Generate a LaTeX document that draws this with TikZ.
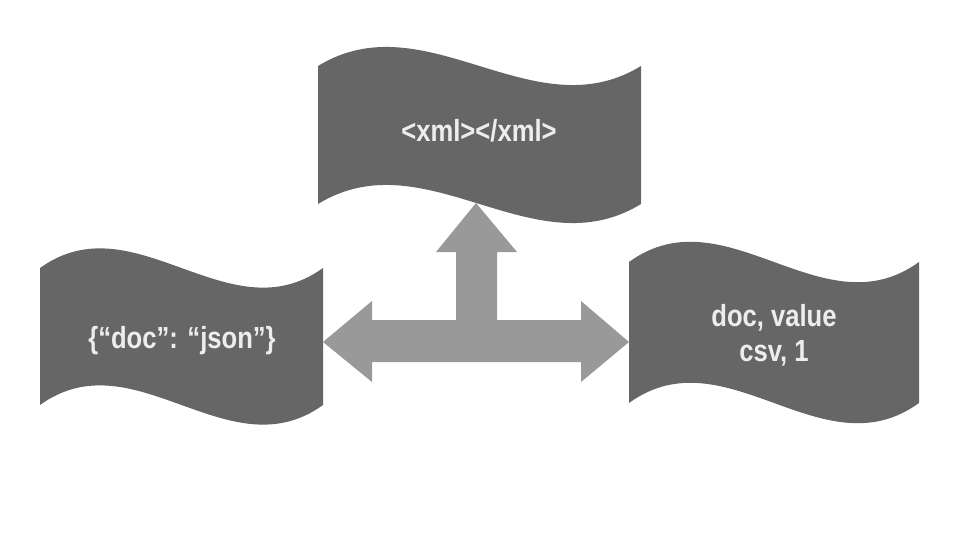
\documentclass[tikz,border=0pt]{standalone}
\usepackage{fontspec}
\setmainfont{Liberation Sans}[FakeStretch=0.84]
\definecolor{shapegray}{HTML}{666666}
\definecolor{arrowgray}{HTML}{999999}
\definecolor{textgray}{HTML}{EDEDED}
\tikzset{
  wavefill/.style={fill=shapegray, draw=none},
  arrowfill/.style={fill=arrowgray, draw=none},
  doclabel/.style={text=textgray, font=\bfseries\fontsize{30.5}{35}\selectfont, align=center, inner sep=0pt}
}
% \wavedoc{x0}{y0}{x1}{y1}{amp}
\newcommand{\wavedoc}[5]{%
  \path[wavefill]
    (#1,#2) .. controls ({#1+(#3-#1)/3},{#2-#5}) and ({#1+2*(#3-#1)/3},{#2+#5}) .. (#3,#2)
    -- (#3,#4)
    .. controls ({#1+2*(#3-#1)/3},{#4+#5}) and ({#1+(#3-#1)/3},{#4-#5}) .. (#1,#4)
    -- cycle;}
\begin{document}
\begin{tikzpicture}[x=1pt,y=-1pt]
\useasboundingbox (0,0) rectangle (960,540);
\fill[white] (0,0) rectangle (960,540);
% document shapes
\wavedoc{318}{66}{641}{204}{66}
\wavedoc{40}{268}{323}{405}{68}
\wavedoc{629}{262}{919}{403}{70}
% three-way arrow
\path[arrowfill]
  (476,203) -- (517,252) -- (497,252) -- (497,320) -- (581,320) -- (581,301)
  -- (629,342) -- (581,382) -- (581,362) -- (372,362) -- (372,382) -- (323,342)
  -- (372,301) -- (372,320) -- (456,320) -- (456,252) -- (436,252) -- cycle;
% labels
\node[doclabel, anchor=base] (xml) at (479,142) {<xml></xml>};
\node[doclabel, anchor=base] (json) at (182,348) {\{“doc”: “json”\}};
\node[doclabel] (csv) at (774,335) {doc, value\\csv, 1};
\end{tikzpicture}
\end{document}
